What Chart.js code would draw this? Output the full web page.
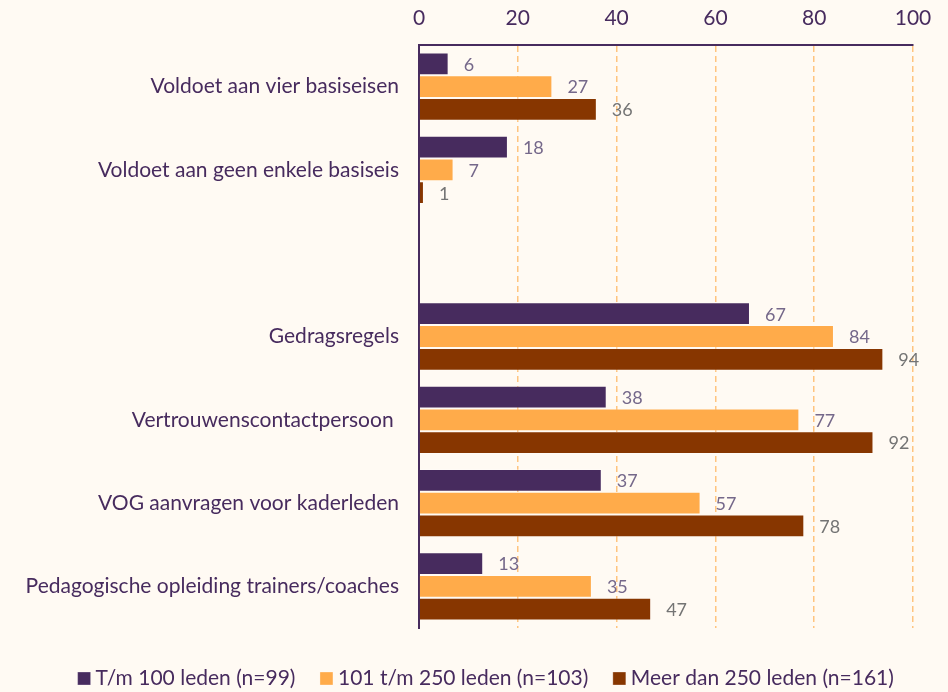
<!DOCTYPE html>
<html><head><meta charset="utf-8">
<script src="https://cdn.jsdelivr.net/npm/chart.js@4"></script>
<style>
html,body{margin:0;padding:0;background:#fffaf3;}
#wrap{width:948px;height:692px;position:relative;}
</style></head>
<body><div id="wrap"><canvas id="c" width="948" height="692"></canvas></div>
<script>
const categories = ["Voldoet aan vier basiseisen","Voldoet aan geen enkele basiseis","","Gedragsregels","Vertrouwenscontactpersoon ","VOG aanvragen voor kaderleden","Pedagogische opleiding trainers/coaches"];
const seriesNames = ["T/m 100 leden (n=99)","101 t/m 250 leden (n=103)","Meer dan 250 leden (n=161)"];
const small = [6,18,null,67,38,37,13];
const medium = [27,7,null,84,77,57,35];
const large = [36,1,null,94,92,78,47];
const xTicks = [0,20,40,60,80,100];
const colors = ["#472b5e","#ffab4a","#873600"];
const labelColors = ["#75688a","#75688a","#747474"];

const valueLabels = {
  id:'valueLabels',
  afterDatasetsDraw(chart){
    const ctx = chart.ctx;
    ctx.save();
    ctx.font = '18px Lato';
    ctx.textBaseline = 'middle';
    ctx.textAlign = 'left';
    chart.data.datasets.forEach((ds,i)=>{
      const meta = chart.getDatasetMeta(i);
      meta.data.forEach((el,j)=>{
        const v = ds.data[j];
        if(v===null||v===undefined) return;
        ctx.fillStyle = labelColors[i];
        ctx.fillText(String(v), el.x+15, el.y+1);
      });
    });
    ctx.restore();
  }
};
const bg = {
  id:'bg',
  beforeDraw(chart){const c=chart.ctx;c.save();c.fillStyle='#fffaf3';c.fillRect(0,0,chart.width,chart.height);c.restore();}
};
const legendShift = {
  id:'legendShift',
  afterLayout(chart){ const l=chart.legend; if(l){ l.top += 10; l.bottom += 10; l.left += 32; l.right += 32; } }
};

new Chart(document.getElementById('c'),{
  type:'bar',
  data:{labels:categories,datasets:[
    {label:seriesNames[0],data:small,backgroundColor:colors[0],borderColor:'rgba(255,255,255,0.3)',borderWidth:1},
    {label:seriesNames[1],data:medium,backgroundColor:colors[1],borderColor:'rgba(255,255,255,0.3)',borderWidth:1},
    {label:seriesNames[2],data:large,backgroundColor:colors[2],borderColor:'rgba(255,255,255,0.3)',borderWidth:1}
  ]},
  options:{
    indexAxis:'y',responsive:false,animation:false,
    categoryPercentage:0.82,barPercentage:1,
    layout:{padding:{top:0,right:35,left:0,bottom:3}},
    plugins:{
      legend:{position:'bottom',labels:{usePointStyle:true,pointStyle:'rect',boxWidth:2,boxHeight:13,color:'#472b5e',font:{family:'Lato',size:21},padding:30}},
      tooltip:{enabled:false}
    },
    scales:{
      x:{position:'top',min:0,max:100,
        afterBuildTicks(s){s.ticks=xTicks.map(v=>({value:v}));},
        afterFit(s){s.height=45;},
        ticks:{color:'#472b5e',font:{family:'Lato',size:21},padding:14},
        grid:{color:'#ffc47f',drawTicks:false,lineWidth:1.5},
        border:{color:'#472b5e',width:2,dash:[6,4],display:true}
      },
      y:{
        afterFit(s){s.width=419;},
        ticks:{color:'#472b5e',font:{family:'Lato',size:21},padding:20},
        grid:{display:false,drawTicks:false},
        border:{color:'#472b5e',width:2}
      }
    }
  },
  plugins:[bg,valueLabels,legendShift]
});
</script></body></html>
